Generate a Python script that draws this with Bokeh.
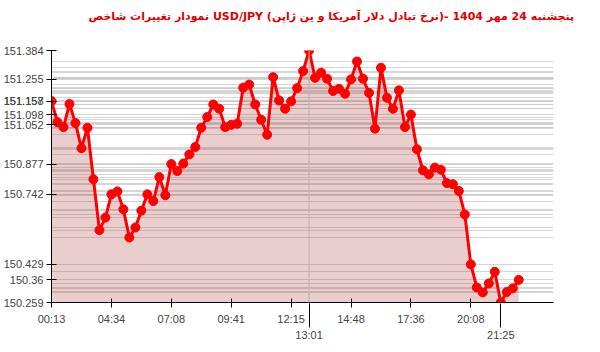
from bokeh.plotting import figure
from bokeh.models import FixedTicker, Range1d, LinearAxis, Span, Title
from bokeh.embed import file_html
from bokeh.resources import INLINE

# ---- data ----
values = [
    151.158, 151.064, 151.042, 151.145, 151.060, 150.948, 151.039, 150.809, 150.582, 150.638,
    150.742, 150.755, 150.675, 150.549, 150.594, 150.669, 150.742, 150.712, 150.819, 150.738,
    150.877, 150.846, 150.879, 150.920, 150.953, 151.039, 151.087, 151.143, 151.124, 151.042,
    151.052, 151.057, 151.218, 151.232, 151.143, 151.075, 151.008, 151.265, 151.161, 151.124,
    151.157, 151.216, 151.292, 151.384, 151.262, 151.285, 151.258, 151.203, 151.213, 151.191,
    151.255, 151.335, 151.258, 151.195, 151.035, 151.307, 151.173, 151.124, 151.206, 151.042,
    151.098, 150.943, 150.849, 150.831, 150.861, 150.852, 150.792, 150.787, 150.757, 150.652,
    150.429, 150.326, 150.304, 150.344, 150.396, 150.259, 150.306, 150.322, 150.360,
]
tick_idx = [0, 10, 20, 30, 40, 50, 60, 70]
tick_labels = ["00:13", "04:34", "07:08", "09:41", "12:15", "14:48", "17:36", "20:08"]
extreme_times = ["13:01", "21:25"]   # time of max, time of min
title_text = "نمودار تغییرات شاخص USD/JPY (نرخ تبادل دلار آمریکا و ین ژاپن)- پنجشنبه  24 مهر 1404"

n = len(values)
xs = list(range(n))
vmax, vmin = max(values), min(values)
i_max = values.index(vmax)
i_min = values.index(vmin)

# y ticks: values at the time ticks, plus max, min and last
ytick_vals = [values[i] for i in tick_idx] + [vmax, vmin, values[-1]]
ytick_labels = {v: ("%.3f" % v).rstrip("0").rstrip(".") for v in ytick_vals}

p = figure(width=600, height=352, output_backend="svg", toolbar_location=None,
           x_range=Range1d(0, 83.8), y_range=Range1d(vmin, vmax),
           min_border_left=50, min_border_right=47, min_border_top=50, min_border_bottom=50)
p.outline_line_color = None
p.background_fill_color = "white"

p.title.text = "\u00a0" * 16 + title_text
p.title.align = "center"
p.title.vertical_align = "bottom"
p.title.text_color = "#e00000"
p.title.text_font = "DejaVu Sans"
p.title.text_font_style = "bold"
p.title.text_font_size = "11px"
p.title.standoff = 4
# spacer between the frame and the title
p.add_layout(Title(text=" ", text_font_size="10px", standoff=13), "above")

# grid: a horizontal line at every value
p.xgrid.visible = False
p.ygrid.ticker = FixedTicker(ticks=values)
p.ygrid.grid_line_color = "#c8c8c8"
p.ygrid.grid_line_alpha = 0.75

p.varea(x=xs, y1=[vmin] * n, y2=values, fill_color=(160, 30, 30), fill_alpha=0.22)
p.add_layout(Span(location=i_max, dimension="height", line_color="#b4b4b4", line_width=1))
p.line(xs, values, line_color="#ff0000", line_width=3)
p.scatter(xs, values, size=9, color="#ff0000")

font = "Liberation Sans"
# y axis
p.yaxis.ticker = FixedTicker(ticks=ytick_vals)
p.yaxis.major_label_overrides = ytick_labels
p.yaxis.major_tick_in = 5
p.yaxis.major_tick_out = 5
p.yaxis.minor_tick_line_color = None
p.yaxis.major_label_standoff = 3
p.yaxis.major_label_text_font = font
p.yaxis.major_label_text_font_size = "11px"
p.yaxis.major_label_text_color = "#444444"
p.yaxis.axis_line_color = "black"

# x axis
p.xaxis.ticker = FixedTicker(ticks=tick_idx)
p.xaxis.major_label_overrides = {i: t for i, t in zip(tick_idx, tick_labels)}
p.xaxis.major_tick_in = 4
p.xaxis.major_tick_out = 5
p.xaxis.minor_tick_line_color = None
p.xaxis.major_label_standoff = 5
p.xaxis.major_label_text_font = font
p.xaxis.major_label_text_font_size = "11px"
p.xaxis.major_label_text_color = "#444444"

ax2 = LinearAxis(ticker=FixedTicker(ticks=[i_max, i_min]),
                 major_label_overrides={i_max: extreme_times[0], i_min: extreme_times[1]},
                 axis_line_color=None, major_tick_in=24, major_tick_out=0,
                 minor_tick_line_color=None, major_label_standoff=1,
                 major_label_text_font=font, major_label_text_font_size="11px",
                 major_label_text_color="#444444")
p.add_layout(ax2, "below")

open("out.html", "w").write(file_html(p, INLINE))
